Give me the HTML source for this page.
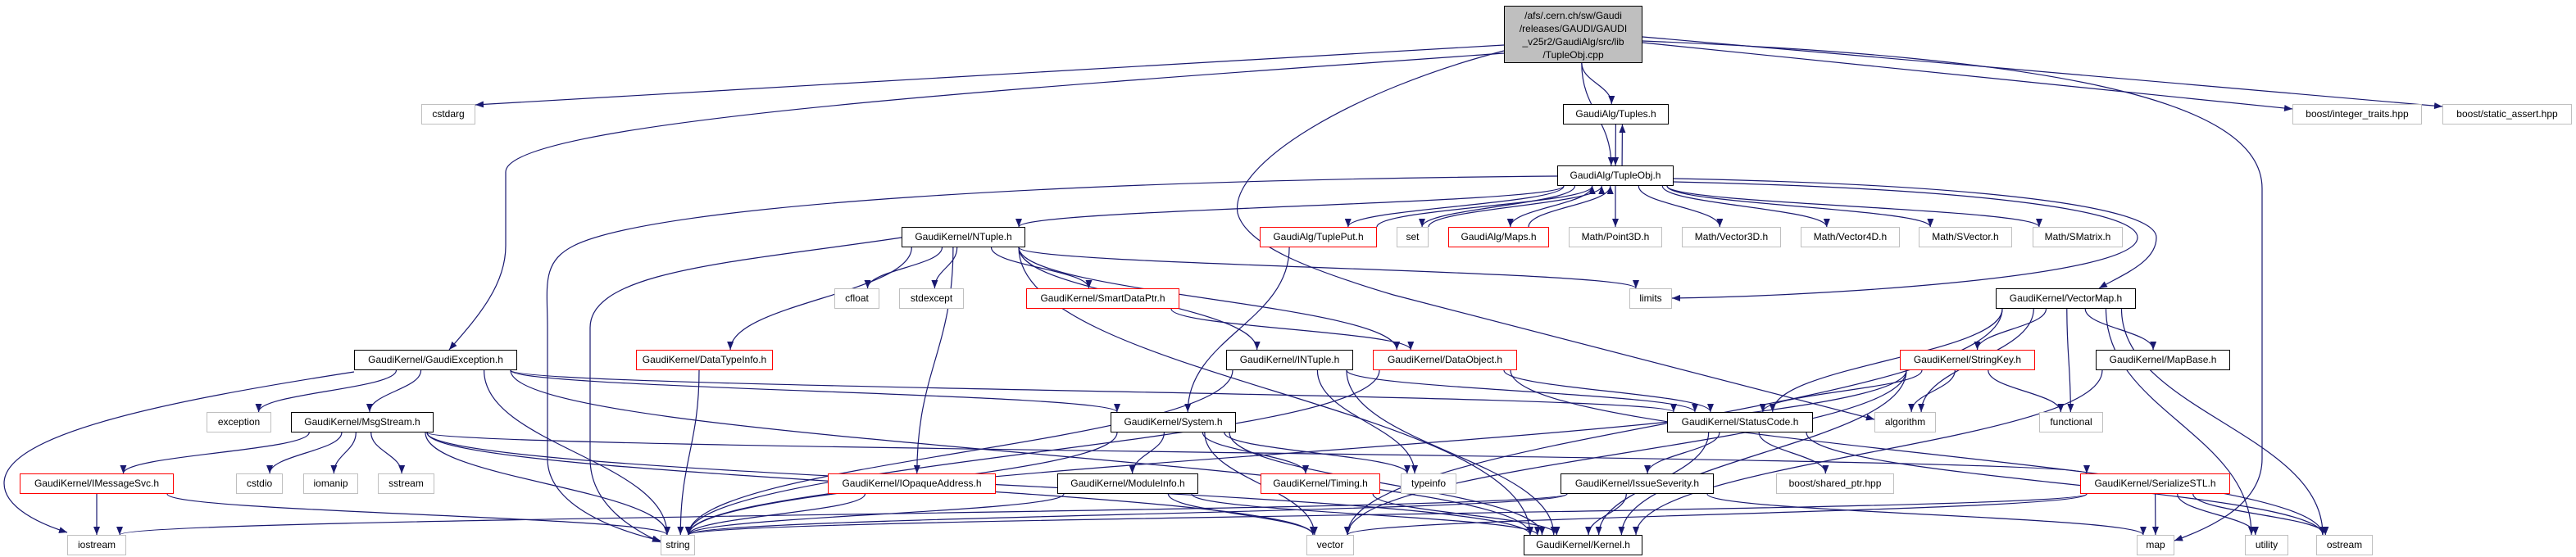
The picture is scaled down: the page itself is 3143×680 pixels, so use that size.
<!DOCTYPE html>
<html><head><meta charset="utf-8">
<style>
html,body{margin:0;padding:0;background:#fff;}
#c{position:relative;width:3143px;height:680px;overflow:hidden;background:#fff;}
svg{position:absolute;left:0;top:0;}
.n{position:absolute;height:25px;box-sizing:border-box;border:1.5px solid #bfbfbf;background:#fff;font-family:"Liberation Sans",sans-serif;font-size:12px;line-height:22px;text-align:center;white-space:nowrap;color:#000;}
.b{border-color:#000;}
.r{border-color:#ff0000;}
.m{background:#bfbfbf;border-color:#000;height:70px;line-height:16px;padding-top:3px;}
</style></head><body>
<div id="c">
<svg id="s" width="3143" height="680" xmlns="http://www.w3.org/2000/svg">
<defs><marker id="a" markerWidth="10" markerHeight="8" refX="10" refY="4" orient="auto" markerUnits="userSpaceOnUse"><path d="M0,0 L10,4 L0,8 z" fill="#191970"/></marker></defs>
<g id="e" fill="none" stroke="#191970" stroke-width="1.2"></g>
</svg>
<div class="n m" style="left:1835px;top:7px;width:169px;">/afs/.cern.ch/sw/Gaudi<br>/releases/GAUDI/GAUDI<br>_v25r2/GaudiAlg/src/lib<br>/TupleObj.cpp</div>
<div class="n" style="left:514px;top:127px;width:66px">cstdarg</div>
<div class="n b" style="left:1907px;top:127px;width:129px">GaudiAlg/Tuples.h</div>
<div class="n" style="left:2797px;top:127px;width:158px">boost/integer_traits.hpp</div>
<div class="n" style="left:2980px;top:127px;width:158px">boost/static_assert.hpp</div>
<div class="n b" style="left:1900px;top:202px;width:142px">GaudiAlg/TupleObj.h</div>
<div class="n b" style="left:1100px;top:277px;width:151px">GaudiKernel/NTuple.h</div>
<div class="n r" style="left:1537px;top:277px;width:143px">GaudiAlg/TuplePut.h</div>
<div class="n" style="left:1704px;top:277px;width:39px">set</div>
<div class="n r" style="left:1767px;top:277px;width:123px">GaudiAlg/Maps.h</div>
<div class="n" style="left:1914px;top:277px;width:114px">Math/Point3D.h</div>
<div class="n" style="left:2052px;top:277px;width:121px">Math/Vector3D.h</div>
<div class="n" style="left:2197px;top:277px;width:121px">Math/Vector4D.h</div>
<div class="n" style="left:2341px;top:277px;width:114px">Math/SVector.h</div>
<div class="n" style="left:2480px;top:277px;width:110px">Math/SMatrix.h</div>
<div class="n" style="left:1018px;top:352px;width:55px">cfloat</div>
<div class="n" style="left:1097px;top:352px;width:79px">stdexcept</div>
<div class="n r" style="left:1252px;top:352px;width:187px">GaudiKernel/SmartDataPtr.h</div>
<div class="n" style="left:1988px;top:352px;width:52px">limits</div>
<div class="n b" style="left:2435px;top:352px;width:171px">GaudiKernel/VectorMap.h</div>
<div class="n b" style="left:432px;top:427px;width:199px">GaudiKernel/GaudiException.h</div>
<div class="n r" style="left:776px;top:427px;width:167px">GaudiKernel/DataTypeInfo.h</div>
<div class="n b" style="left:1496px;top:427px;width:155px">GaudiKernel/INTuple.h</div>
<div class="n r" style="left:1675px;top:427px;width:176px">GaudiKernel/DataObject.h</div>
<div class="n r" style="left:2318px;top:427px;width:165px">GaudiKernel/StringKey.h</div>
<div class="n b" style="left:2557px;top:427px;width:164px">GaudiKernel/MapBase.h</div>
<div class="n" style="left:252px;top:503px;width:79px">exception</div>
<div class="n b" style="left:355px;top:503px;width:174px">GaudiKernel/MsgStream.h</div>
<div class="n b" style="left:1355px;top:503px;width:153px">GaudiKernel/System.h</div>
<div class="n b" style="left:2034px;top:503px;width:178px">GaudiKernel/StatusCode.h</div>
<div class="n" style="left:2287px;top:503px;width:75px">algorithm</div>
<div class="n" style="left:2488px;top:503px;width:78px">functional</div>
<div class="n r" style="left:24px;top:578px;width:188px">GaudiKernel/IMessageSvc.h</div>
<div class="n" style="left:288px;top:578px;width:57px">cstdio</div>
<div class="n" style="left:370px;top:578px;width:67px">iomanip</div>
<div class="n" style="left:461px;top:578px;width:69px">sstream</div>
<div class="n r" style="left:1010px;top:578px;width:205px">GaudiKernel/IOpaqueAddress.h</div>
<div class="n b" style="left:1290px;top:578px;width:172px">GaudiKernel/ModuleInfo.h</div>
<div class="n r" style="left:1538px;top:578px;width:146px">GaudiKernel/Timing.h</div>
<div class="n" style="left:1709px;top:578px;width:68px">typeinfo</div>
<div class="n b" style="left:1904px;top:578px;width:187px">GaudiKernel/IssueSeverity.h</div>
<div class="n" style="left:2167px;top:578px;width:144px">boost/shared_ptr.hpp</div>
<div class="n r" style="left:2538px;top:578px;width:183px">GaudiKernel/SerializeSTL.h</div>
<div class="n" style="left:82px;top:653px;width:72px">iostream</div>
<div class="n" style="left:806px;top:653px;width:42px">string</div>
<div class="n" style="left:1594px;top:653px;width:58px">vector</div>
<div class="n b" style="left:1859px;top:653px;width:145px">GaudiKernel/Kernel.h</div>
<div class="n" style="left:2607px;top:653px;width:46px">map</div>
<div class="n" style="left:2739px;top:653px;width:53px">utility</div>
<div class="n" style="left:2826px;top:653px;width:69px">ostream</div>
</div>
<script>
(function(){
var R={1:127,2:202,3:277,4:352,5:427,6:503,7:578,8:653};
var N={
main:[1835,2004,0],cstdarg:[514,580,1],tuples:[1907,2036,1],inttr:[2797,2955,1],sassert:[2980,3138,1],
tupleobj:[1900,2042,2],ntuple:[1100,1251,3],tupleput:[1537,1680,3],set:[1704,1743,3],maps:[1767,1890,3],
point3d:[1914,2028,3],vector3d:[2052,2173,3],vector4d:[2197,2318,3],svector:[2341,2455,3],smatrix:[2480,2590,3],
cfloat:[1018,1073,4],stdexcept:[1097,1176,4],smartdataptr:[1252,1439,4],limits:[1988,2040,4],vectormap:[2435,2606,4],
gexc:[432,631,5],datatypeinfo:[776,943,5],intuple:[1496,1651,5],dataobject:[1675,1851,5],stringkey:[2318,2483,5],mapbase:[2557,2721,5],
exception:[252,331,6],msgstream:[355,529,6],system:[1355,1508,6],statuscode:[2034,2212,6],algorithm:[2287,2362,6],functional:[2488,2566,6],
imsgsvc:[24,212,7],cstdio:[288,345,7],iomanip:[370,437,7],sstream:[461,530,7],iopaque:[1010,1215,7],moduleinfo:[1290,1462,7],
timing:[1538,1684,7],typeinfo:[1709,1777,7],issuesev:[1904,2091,7],sharedptr:[2167,2311,7],serialize:[2538,2721,7],
iostream:[82,154,8],string:[806,848,8],vector:[1594,1652,8],kernel:[1859,2004,8],map:[2607,2653,8],utility:[2739,2792,8],ostream:[2826,2895,8]};
var O={
'main>map':'M2004,50 C2500,70 2760,120 2760,230 L2760,560 C2760,610 2710,640 2653,660',
'main>algorithm':'M1835,62 C1650,110 1500,200 1510,260 C1520,300 1600,330 1700,360 L2287,512',
'main>gexc':'M1835,65 C1200,110 617,150 617,210 L617,300 C617,350 580,390 548,427',
'main>cstdarg':'M1835,55 L580,128',
'main>inttr':'M2004,52 L2797,133',
'main>sassert':'M2004,45 L2980,130',
'tupleobj>string':'M1900,215 C1300,220 800,250 700,300 C660,320 668,350 668,400 L668,560 C668,620 760,650 806,660',
'ntuple>string':'M1100,290 C900,320 720,330 720,400 L720,560 C720,620 780,650 806,662',
'gexc>iostream':'M432,454 C200,490 5,530 5,590 C5,620 50,640 82,650',
'tupleobj>vectormap':'M2042,218 C2400,225 2631,250 2631,290 C2631,320 2590,335 2561,352',
'tupleobj>limits':'M2042,222 C2400,230 2608,255 2608,290 C2608,340 2200,362 2040,364'
};
function ytop(n){return n[2]==0?7:R[n[2]];}
function ybot(n){return n[2]==0?77:R[n[2]]+25;}
function cl(v,a,b){return Math.max(a,Math.min(b,v));}
var E=[
['main','cstdarg'],['main','gexc'],['main','tuples'],['main','tupleobj'],['main','algorithm'],['main','map'],['main','inttr'],['main','sassert'],
['tuples','tupleobj'],['tupleobj','tuples'],
['tupleobj','ntuple'],['tupleobj','string'],['tupleobj','tupleput'],['tupleobj','set'],['tupleobj','maps'],['tupleobj','point3d'],['tupleobj','vector3d'],
['tupleobj','vector4d'],['tupleobj','svector'],['tupleobj','smatrix'],['tupleobj','limits'],['tupleobj','vectormap'],
['tupleput','tupleobj'],['set','tupleobj'],['maps','tupleobj'],['tupleput','system'],
['ntuple','cfloat'],['ntuple','stdexcept'],['ntuple','smartdataptr'],['ntuple','datatypeinfo'],['ntuple','iopaque'],['ntuple','intuple'],
['ntuple','dataobject'],['ntuple','limits'],['ntuple','string'],['ntuple','kernel'],
['smartdataptr','dataobject'],['datatypeinfo','string'],
['intuple','string'],['intuple','typeinfo'],['intuple','statuscode'],['intuple','kernel'],
['dataobject','statuscode'],['dataobject','ostream'],['dataobject','string'],
['gexc','iostream'],['gexc','exception'],['gexc','msgstream'],['gexc','string'],['gexc','system'],['gexc','statuscode'],['gexc','kernel'],
['msgstream','imsgsvc'],['msgstream','cstdio'],['msgstream','iomanip'],['msgstream','sstream'],['msgstream','string'],['msgstream','vector'],
['msgstream','serialize'],['msgstream','kernel'],
['imsgsvc','iostream'],['imsgsvc','string'],
['system','string'],['system','moduleinfo'],['system','timing'],['system','typeinfo'],['system','vector'],['system','kernel'],
['iopaque','string'],['moduleinfo','string'],['moduleinfo','vector'],['moduleinfo','kernel'],['timing','kernel'],
['statuscode','issuesev'],['statuscode','sharedptr'],['statuscode','kernel'],['statuscode','ostream'],
['issuesev','iostream'],['issuesev','string'],['issuesev','kernel'],['issuesev','map'],
['vectormap','stringkey'],['vectormap','mapbase'],['vectormap','functional'],['vectormap','algorithm'],['vectormap','utility'],
['vectormap','ostream'],['vectormap','vector'],['vectormap','statuscode'],
['stringkey','string'],['stringkey','statuscode'],['stringkey','algorithm'],['stringkey','functional'],['stringkey','vector'],['stringkey','kernel'],
['mapbase','kernel'],
['serialize','map'],['serialize','utility'],['serialize','ostream'],['serialize','vector'],['serialize','string']
];
var g=document.getElementById('e'),ns='http://www.w3.org/2000/svg';
for(var i=0;i<E.length;i++){
 var k=E[i][0]+'>'+E[i][1],d=O[k];
 if(!d){
 var s=N[E[i][0]],t=N[E[i][1]],scx=(s[0]+s[1])/2,tcx=(t[0]+t[1])/2,sx,sy,tx,ty,dy;
 if(t[2]>s[2]){
  sx=cl(scx+(tcx-scx)*0.2,s[0]+8,s[1]-8);sy=ybot(s);
  tx=cl(tcx+(scx-tcx)*0.1,t[0]+8,t[1]-8);ty=ytop(t);
 } else {
  sx=cl(scx+(tcx-scx)*0.2,s[0]+8,s[1]-8)+8;sy=ytop(s);
  tx=cl(tcx+(scx-tcx)*0.1,t[0]+8,t[1]-8)+8;ty=ybot(t);
 }
 dy=ty-sy;
 d='M'+sx+','+sy+' C'+sx+','+(sy+dy*0.45)+' '+tx+','+(ty-dy*0.45)+' '+tx+','+ty;
 }
 var e=document.createElementNS(ns,'path');e.setAttribute('d',d);e.setAttribute('marker-end','url(#a)');g.appendChild(e);
}
})();
</script>
</body></html>
